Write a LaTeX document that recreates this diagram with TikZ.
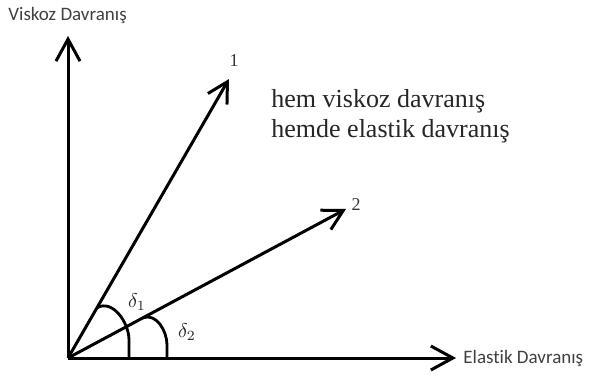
\documentclass[tikz,border=0pt]{standalone}
\usepackage{fontspec}
\setsansfont{Carlito}[Ligatures={NoCommon}]
\newfontfamily\txtfont{Liberation Serif}
\usetikzlibrary{arrows.meta, positioning, calc}

\begin{document}
\begin{tikzpicture}[
  x=0.5pt, y=-0.5pt,
  axis/.style={line width=1.5pt, -{Straight Barb[length=11pt, width=12pt, line width=1.5pt]}},
  vec/.style={line width=1.5pt, -{Straight Barb[length=10pt, width=11pt, line width=1.5pt]}},
  angarc/.style={line width=1.4pt},
  axlbl/.style={font=\sffamily\fontsize{9.5}{11}\selectfont, text=black!75, inner sep=1pt},
  veclbl/.style={font=\txtfont\fontsize{9}{10}\selectfont, text=black!80, inner sep=1pt},
  anglbl/.style={font=\normalsize, text=black!85, inner sep=1pt}
]
\useasboundingbox (0,0) rectangle (590,385);

% Origin and arrow ends
\coordinate (O)  at (68,358);
\coordinate (ye) at (68,36);
\coordinate (xe) at (456,358);
\coordinate (v1) at (229,79);
\coordinate (v2) at (346,209);

% Axes
\draw[axis] (O) -- (ye);
\draw[axis] (O) -- (xe);
\node[axlbl, anchor=south west] (ylbl) at (6,26) {Viskoz Davranış};
\node[axlbl, anchor=west] (xlbl) at (461,358) {Elastik Davranış};

% Vectors
\draw[vec] (O) -- (v1);
\draw[vec] (O) -- (v2);
\node[veclbl] (n1) at (234,61)  {1};
\node[veclbl] (n2) at (356,205) {2};

% Angle arcs
\coordinate (a1) at ($(O)!0.18!(v1)$);
\coordinate (a2) at ($(O)!0.27!(v2)$);
\draw[angarc] (a1) to[out=30, in=90] (129,340) -- (129,358);
\draw[angarc] (a2) to[out=20, in=90] (167,345) -- (167,358);
\node[anglbl] (d1) at (137,302) {$\delta_1$};
\node[anglbl] (d2) at (187,332) {$\delta_2$};

% Description
\node[font=\txtfont\fontsize{13}{15}\selectfont, align=left, anchor=north west,
      text=black!85, inner sep=0pt] (desc) at (271,89)
  {hem viskoz davranış\\hemde elastik davranış};
\end{tikzpicture}
\end{document}
